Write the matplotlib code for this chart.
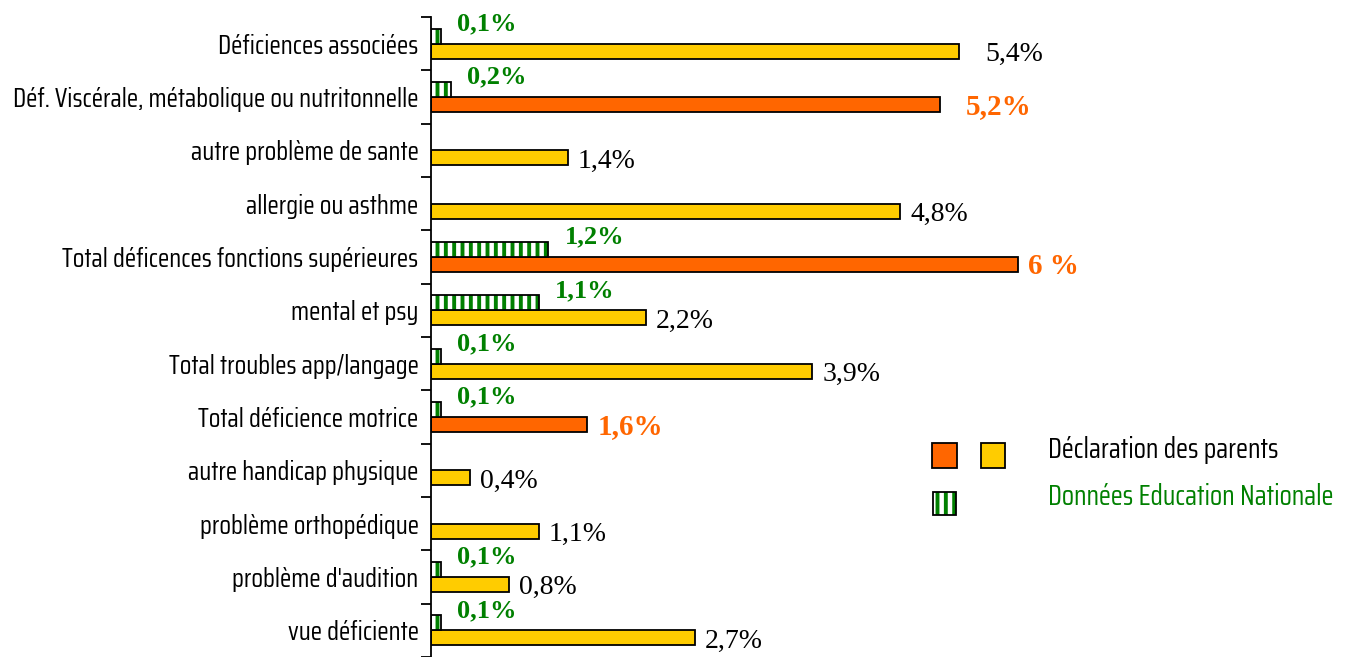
import matplotlib.pyplot as plt
from matplotlib.patches import Rectangle

# categories, top to bottom
categories = [
    "Déficiences associées",
    "Déf. Viscérale, métabolique ou nutritonnelle",
    "autre problème de sante",
    "allergie ou asthme",
    "Total déficences fonctions supérieures",
    "mental et psy",
    "Total troubles app/langage",
    "Total déficience motrice",
    "autre handicap physique",
    "problème orthopédique",
    "problème d'audition",
    "vue déficiente",
]
parents = [5.4, 5.2, 1.4, 4.8, 6.0, 2.2, 3.9, 1.6, 0.4, 1.1, 0.8, 2.7]
parents_labels = ["5,4%", "5,2%", "1,4%", "4,8%", "6 %", "2,2%",
                  "3,9%", "1,6%", "0,4%", "1,1%", "0,8%", "2,7%"]
is_total = [False, True, False, False, True, False, False, True, False, False, False, False]
educ = [0.1, 0.2, None, None, 1.2, 1.1, 0.1, 0.1, None, None, 0.1, 0.1]
educ_labels = ["0,1%", "0,2%", "", "", "1,2%", "1,1%", "0,1%", "0,1%", "", "", "0,1%", "0,1%"]

ORANGE = "#ff6600"
YELLOW = "#ffcc00"
GREEN = "#008000"
NARROW = ["Saira Condensed", "DejaVu Sans"]
SERIF = "Liberation Serif"

W, H = 1354, 657
fig = plt.figure(figsize=(W / 100, H / 100), dpi=100)
plt.rcParams['hatch.linewidth'] = 2.8

px = 97.8  # pixels per percent
x0 = 431
top = 17
row = 53.8
ax = fig.add_axes([x0 / W, 0, 1 - x0 / W, 1 - top / H])
ax.set_xlim(0, (W - x0) / px)
ax.set_ylim((H - top) / row - 0.5, -0.5)

hgt = 0.28
off = 0.14
for i, v in enumerate(parents):
    col = ORANGE if is_total[i] else YELLOW
    ax.barh(i + off, v, height=hgt, color=col, edgecolor="black", linewidth=1.3, zorder=2)
    gap = 26 if i in (0, 1) else 10
    if is_total[i]:
        ax.annotate(parents_labels[i], (v, i + off + 0.04), xytext=(gap * 0.72, 0),
                    textcoords="offset points", va="center", ha="left",
                    family=SERIF, fontsize=21, fontweight="bold", color=ORANGE)
    else:
        ax.annotate(parents_labels[i], (v, i + off + 0.06), xytext=(gap * 0.72, 0),
                    textcoords="offset points", va="center", ha="left",
                    family=SERIF, fontsize=20, color="black")

for i, v in enumerate(educ):
    if v is None:
        continue
    ax.barh(i - off, v, height=hgt, color="white", edgecolor=GREEN, hatch="||",
            linewidth=0, zorder=2)
    ax.barh(i - off, v, height=hgt, color="none", edgecolor="black", linewidth=1.3, zorder=3)
    ax.annotate(educ_labels[i], (v, i - 0.37), xytext=(12, 0), textcoords="offset points",
                va="center", ha="left", family=SERIF, fontsize=19,
                fontweight="bold", color=GREEN)

for s in ["top", "right", "bottom"]:
    ax.spines[s].set_visible(False)
ax.spines["left"].set_linewidth(1.3)
ax.set_xticks([])
ax.set_yticks(range(len(categories)))
ax.set_yticklabels(categories, family=NARROW, fontsize=19)
ax.tick_params(axis="y", which="major", length=0, pad=9)
ax.set_yticks([i - 0.5 for i in range(len(categories) + 1)], minor=True)
ax.tick_params(axis="y", which="minor", length=7, width=1.3, direction="out")

# legend drawn by hand
def fx(p):
    return p / W

def fy(p):
    return 1 - p / H

fig.add_artist(Rectangle((fx(932), fy(468)), fx(25), 25 / H, facecolor=ORANGE,
                         edgecolor="black", linewidth=1.3, transform=fig.transFigure))
fig.add_artist(Rectangle((fx(981), fy(468)), fx(24), 25 / H, facecolor=YELLOW,
                         edgecolor="black", linewidth=1.3, transform=fig.transFigure))
fig.add_artist(Rectangle((fx(933), fy(515)), fx(23), 23 / H, facecolor="white",
                         edgecolor=GREEN, hatch="||", linewidth=0, transform=fig.transFigure))
fig.add_artist(Rectangle((fx(933), fy(515)), fx(23), 23 / H, facecolor="none",
                         edgecolor="black", linewidth=1.3, transform=fig.transFigure))
fig.text(fx(1048), fy(450), "Déclaration des parents", family=NARROW,
         fontsize=20, va="center", ha="left", color="black")
fig.text(fx(1048), fy(497), "Données Education Nationale", family=NARROW,
         fontsize=20, va="center", ha="left", color=GREEN)

fig.savefig("out.png", dpi=100)
